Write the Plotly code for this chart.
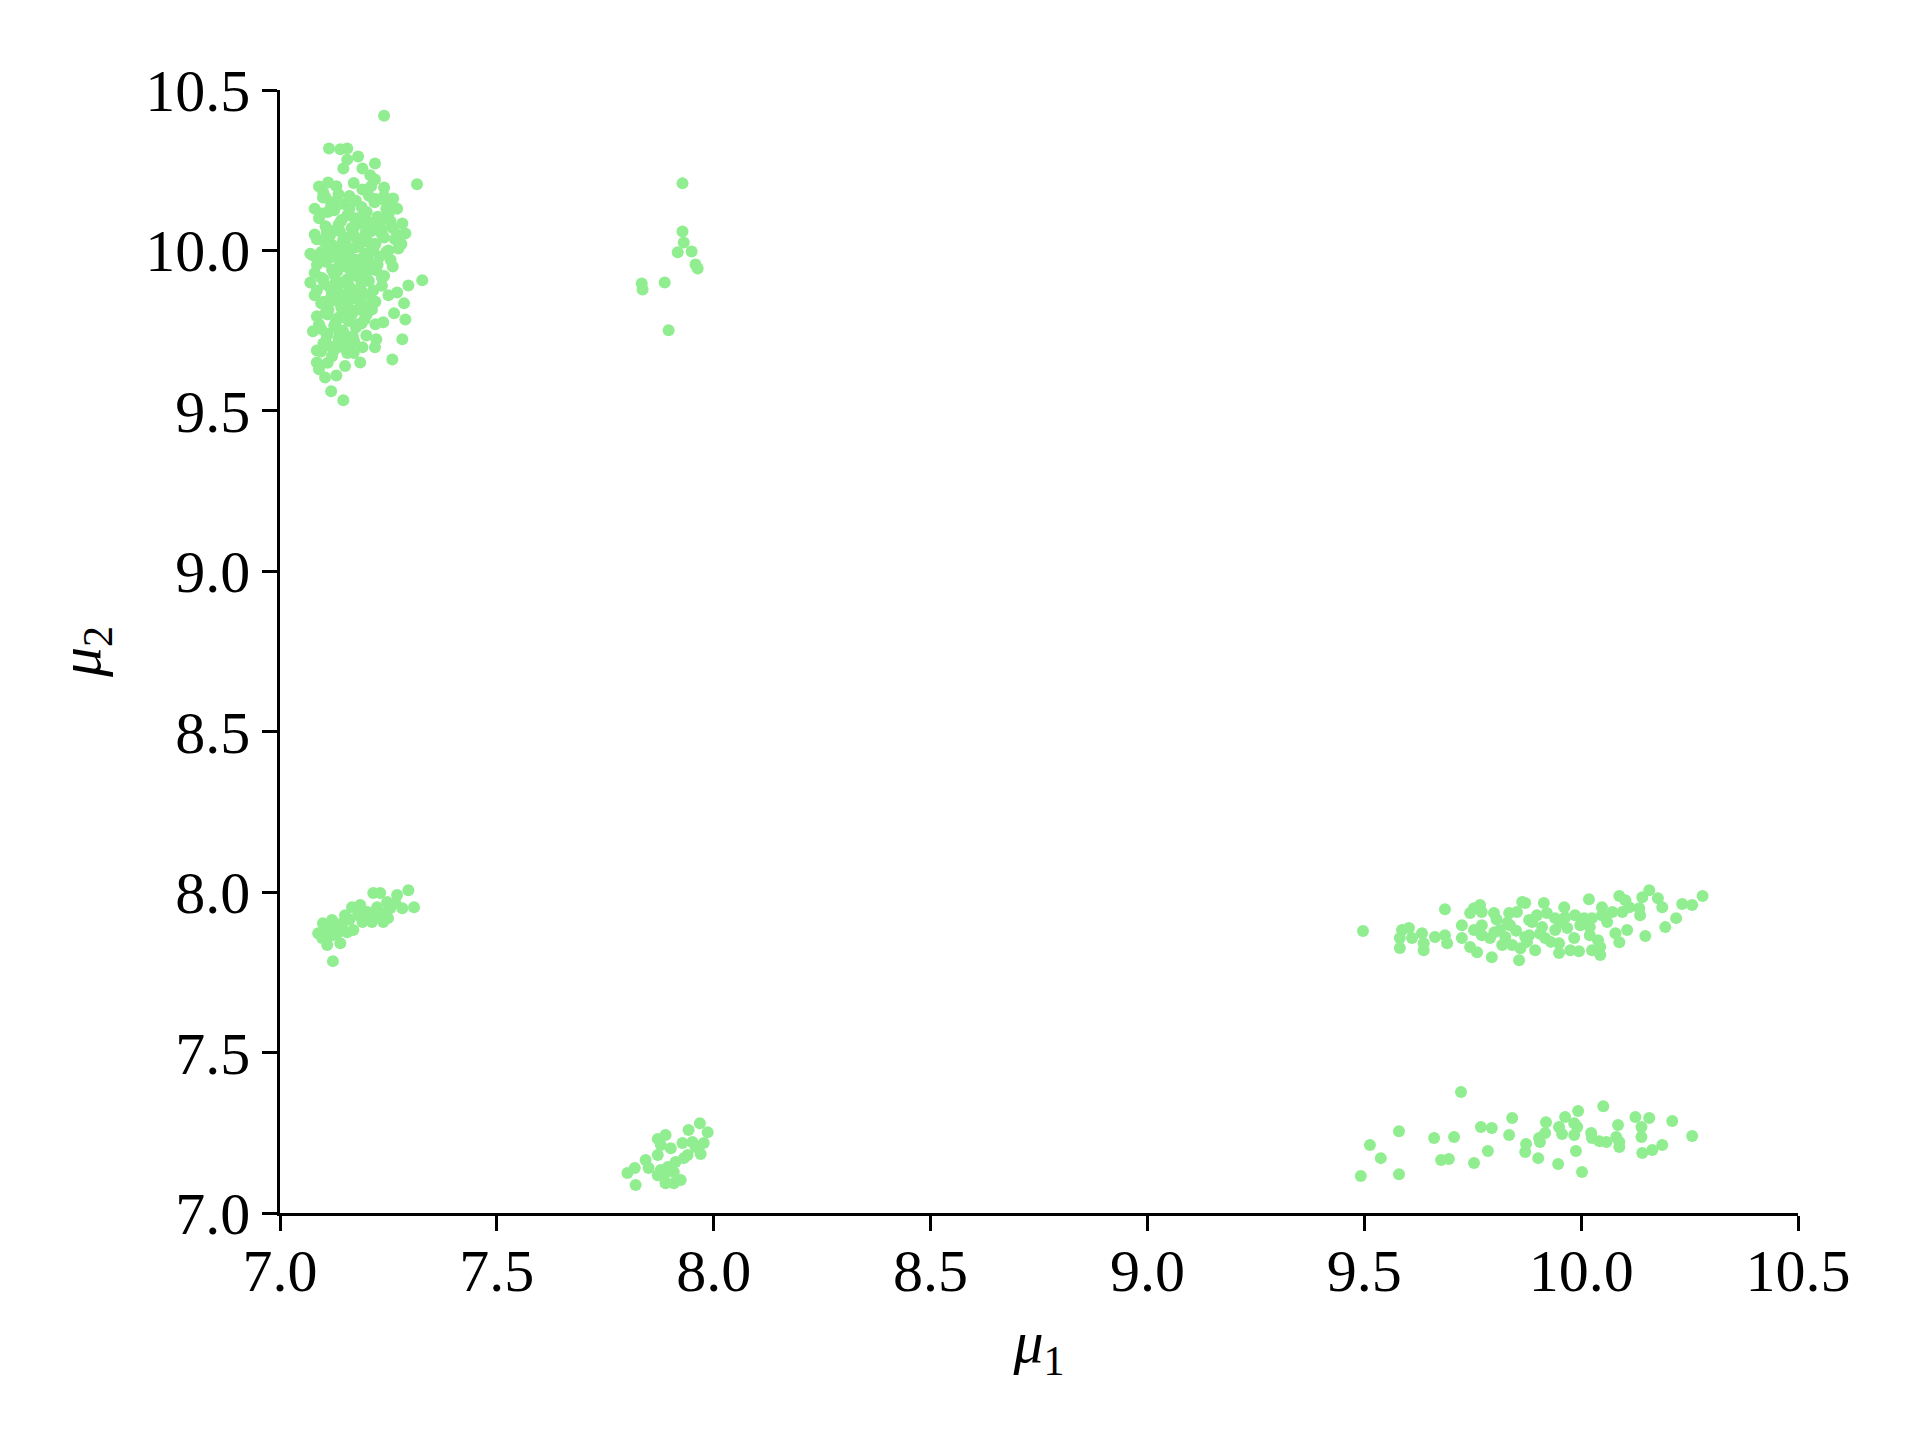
import plotly.graph_objects as go

# Cluster near (7.2, 10.0) - the big one
top_left_mu1 = [
    7.240, 7.113, 7.139, 7.155, 7.155, 7.180, 7.219, 7.146, 7.190, 7.208,
    7.219, 7.316, 7.090, 7.111, 7.240, 7.099, 7.261, 7.249, 7.282, 7.289,
    7.273, 7.076, 7.328, 7.296, 7.286, 7.289, 7.282, 7.259, 7.076, 7.085,
    7.085, 7.104, 7.118, 7.146, 7.190, 7.219, 7.222, 7.171, 7.185, 7.199,
    7.238, 7.263, 7.270, 7.212, 7.190,
    7.10, 7.13, 7.16, 7.19, 7.22, 7.12, 7.17, 7.21,
    7.09, 7.11, 7.14, 7.16, 7.18, 7.20, 7.23, 7.25, 7.13, 7.26,
    7.08, 7.10, 7.12, 7.15, 7.17, 7.19, 7.21, 7.24, 7.14, 7.22, 7.27,
    7.07, 7.09, 7.11, 7.13, 7.16, 7.18, 7.20, 7.23, 7.25, 7.28, 7.15,
    7.08, 7.10, 7.12, 7.14, 7.17, 7.19, 7.21, 7.24, 7.26, 7.16,
    7.08, 7.10, 7.12, 7.14, 7.17, 7.19, 7.22, 7.25, 7.11, 7.15,
    7.09, 7.11, 7.13, 7.16, 7.18, 7.14, 7.10, 7.12, 7.15, 7.13, 7.17,
    7.08, 7.27, 7.24, 7.07, 7.20, 7.22, 7.09, 7.11,
    7.105, 7.135, 7.175, 7.205, 7.235,
    7.095, 7.125, 7.155, 7.195, 7.225, 7.245,
    7.105, 7.135, 7.165, 7.185, 7.215, 7.235, 7.255,
    7.085, 7.115, 7.145, 7.175, 7.205, 7.235, 7.265,
    7.095, 7.125, 7.155, 7.175, 7.195, 7.215, 7.245,
    7.085, 7.105, 7.135, 7.165, 7.185, 7.205, 7.225, 7.255,
    7.095, 7.125, 7.155, 7.175, 7.205, 7.235,
    7.085, 7.115, 7.135, 7.165, 7.185, 7.215, 7.235,
    7.095, 7.125, 7.155, 7.185, 7.205,
    7.085, 7.105, 7.135, 7.165, 7.195,
    7.095, 7.125, 7.145, 7.175,
    7.105, 7.135, 7.165,
    7.095, 7.125, 7.155,
    7.118, 7.148, 7.188, 7.218, 7.142, 7.172, 7.202, 7.232,
    7.108, 7.138, 7.168, 7.198, 7.228, 7.122, 7.152, 7.182, 7.212,
    7.112, 7.142, 7.172, 7.202, 7.132, 7.162, 7.192, 7.222,
    7.102, 7.128, 7.158, 7.188, 7.118, 7.148, 7.178, 7.208,
    7.112, 7.142, 7.172, 7.128, 7.158, 7.188,
    7.108, 7.138, 7.168, 7.118, 7.148,
]
top_left_mu2 = [
    10.420, 10.318, 10.315, 10.318, 10.283, 10.293, 10.271, 10.255, 10.255, 10.234,
    10.221, 10.206, 10.199, 10.212, 10.196, 10.165, 10.162, 10.146, 10.084, 10.053,
    10.006, 9.984, 9.907, 9.891, 9.835, 9.785, 9.723, 9.660, 9.748, 9.688,
    9.651, 9.604, 9.561, 9.533, 9.698, 9.698, 9.723, 9.717, 9.651, 9.735,
    9.776, 9.804, 9.869, 9.816, 9.813,
    10.18, 10.20, 10.17, 10.19, 10.16, 10.15, 10.21, 10.20,
    10.10, 10.12, 10.09, 10.13, 10.10, 10.12, 10.09, 10.11, 10.14, 10.07,
    10.05, 10.03, 10.06, 10.04, 10.07, 10.03, 10.06, 10.04, 10.01, 10.02, 10.05,
    9.99, 9.97, 10.00, 9.98, 10.00, 9.97, 9.99, 9.98, 10.00, 10.02, 9.95,
    9.93, 9.91, 9.94, 9.90, 9.93, 9.91, 9.94, 9.92, 9.95, 9.88,
    9.86, 9.84, 9.87, 9.83, 9.85, 9.87, 9.84, 9.86, 9.80, 9.79,
    9.77, 9.74, 9.76, 9.73, 9.77, 9.70, 9.71, 9.67, 9.64, 9.61, 9.68,
    10.13, 10.13, 10.17, 9.90, 9.80, 9.77, 9.63, 9.65,
    10.165, 10.175, 10.155, 10.170, 10.160,
    10.115, 10.125, 10.110, 10.120, 10.105, 10.130,
    10.075, 10.080, 10.070, 10.085, 10.075, 10.065, 10.090,
    10.035, 10.045, 10.030, 10.040, 10.025, 10.050, 10.035,
    9.995, 10.005, 9.990, 10.010, 9.985, 10.000, 9.995,
    9.955, 9.965, 9.950, 9.960, 9.945, 9.965, 9.955, 9.970,
    9.915, 9.925, 9.910, 9.920, 9.905, 9.915,
    9.875, 9.885, 9.870, 9.880, 9.865, 9.875, 9.890,
    9.835, 9.845, 9.830, 9.840, 9.825,
    9.795, 9.805, 9.790, 9.800, 9.785,
    9.755, 9.765, 9.750, 9.760,
    9.715, 9.725, 9.710,
    9.685, 9.690, 9.680,
    10.140, 10.145, 10.135, 10.150, 10.095, 10.100, 10.090, 10.098,
    10.055, 10.060, 10.050, 10.058, 10.062, 10.015, 10.020, 10.012, 10.018,
    9.975, 9.980, 9.972, 9.978, 9.935, 9.940, 9.932, 9.938,
    9.895, 9.900, 9.892, 9.898, 9.855, 9.860, 9.852, 9.858,
    9.815, 9.820, 9.812, 9.775, 9.780, 9.772,
    9.735, 9.740, 9.732, 9.700, 9.705,
]

# Small cluster near (7.9, 10.0)
top_mid_mu1 = [7.928, 7.928, 7.931, 7.917, 7.949, 7.958, 7.963, 7.887, 7.834, 7.836, 7.896]
top_mid_mu2 = [10.209, 10.059, 10.025, 9.994, 9.997, 9.956, 9.944, 9.900, 9.897, 9.878, 9.751]

# Band near (7.2, 7.9)
mid_left_mu1 = [
    7.122, 7.296, 7.309, 7.270, 7.282, 7.215, 7.231, 7.254, 7.238, 7.212,
    7.185, 7.166, 7.150, 7.139, 7.120, 7.099, 7.088, 7.109, 7.139, 7.169,
    7.190, 7.201, 7.224, 7.247, 7.120, 7.155, 7.132, 7.180, 7.203, 7.231,
    7.249, 7.266, 7.097, 7.105, 7.125, 7.145, 7.160, 7.195, 7.222, 7.243,
]
mid_left_mu2 = [
    7.785, 8.006, 7.953, 7.991, 7.950, 7.997, 7.997, 7.950, 7.907, 7.907,
    7.960, 7.953, 7.928, 7.897, 7.913, 7.903, 7.872, 7.835, 7.841, 7.882,
    7.907, 7.938, 7.953, 7.969, 7.866, 7.875, 7.872, 7.928, 7.919, 7.928,
    7.919, 7.966, 7.857, 7.880, 7.892, 7.905, 7.915, 7.940, 7.940, 7.935,
]

# Cluster near (7.9, 7.2)
bottom_mu1 = [
    7.968, 7.986, 7.942, 7.889, 7.871, 7.977, 7.951, 7.928, 7.901, 7.878,
    7.970, 7.940, 7.871, 7.912, 7.843, 7.850, 7.818, 7.801, 7.878, 7.894,
    7.908, 7.871, 7.889, 7.908, 7.924, 7.820, 7.885, 7.931, 7.958,
]
bottom_mu2 = [
    7.280, 7.252, 7.259, 7.243, 7.231, 7.218, 7.221, 7.218, 7.202, 7.212,
    7.184, 7.181, 7.181, 7.159, 7.165, 7.140, 7.140, 7.125, 7.134, 7.143,
    7.128, 7.118, 7.093, 7.093, 7.103, 7.087, 7.112, 7.171, 7.206,
]

# Band near (9.9, 7.9)
right_mid_mu1 = [
    9.497, 9.686, 9.587, 9.603, 9.582, 9.582, 9.633, 9.610, 9.637, 9.637,
    9.663, 9.686, 9.691, 9.725, 9.725, 9.744, 9.753, 9.767, 9.771, 9.744,
    9.760, 9.771, 9.799, 9.794, 9.790, 9.813, 9.834, 9.852, 9.864, 9.836,
    9.857, 9.841, 9.818, 9.871, 9.771, 9.753, 9.880,
    10.280, 10.256, 10.233, 10.219, 10.194, 10.148, 10.187, 10.177, 10.157, 10.141,
    10.134, 10.136, 10.106, 10.088, 10.079, 10.088, 10.102, 10.095, 10.111, 10.060,
    10.072, 10.048, 10.018, 10.044, 10.044, 10.025, 10.039, 10.020, 10.007, 10.025,
    9.986, 9.995, 9.975, 9.984, 9.961, 9.963, 9.940, 9.940, 9.949, 9.949,
    9.917, 9.914, 9.921, 9.898, 9.894, 9.887, 9.871, 9.880, 10.020, 10.048,
    9.998, 9.968, 9.910,
    9.800, 9.825, 9.850, 9.875, 9.905, 9.930, 9.955, 9.805, 9.830, 9.860,
]
right_mid_mu2 = [
    7.879, 7.947, 7.882, 7.888, 7.826, 7.857, 7.872, 7.857, 7.819, 7.841,
    7.860, 7.866, 7.841, 7.897, 7.857, 7.935, 7.950, 7.960, 7.938, 7.829,
    7.813, 7.897, 7.935, 7.797, 7.857, 7.882, 7.935, 7.938, 7.969, 7.897,
    7.788, 7.835, 7.835, 7.860, 7.866, 7.882, 7.913,
    7.988, 7.960, 7.963, 7.919, 7.891, 7.863, 7.953, 7.981, 8.006, 7.984,
    7.950, 7.928, 7.882, 7.844, 7.872, 7.988, 7.975, 7.938, 7.953, 7.907,
    7.938, 7.953, 7.978, 7.829, 7.804, 7.819, 7.850, 7.866, 7.919, 7.919,
    7.928, 7.816, 7.819, 7.857, 7.953, 7.922, 7.919, 7.882, 7.841, 7.810,
    7.857, 7.966, 7.935, 7.928, 7.819, 7.907, 7.966, 7.866, 7.891, 7.928,
    7.897, 7.888, 7.891,
    7.875, 7.860, 7.880, 7.845, 7.870, 7.845, 7.905, 7.915, 7.905, 7.825,
]

# Sparse cluster near (9.9, 7.2)
right_bottom_mu1 = [
    9.723, 9.580, 9.513, 9.538, 9.492, 9.580, 9.661, 9.707, 9.677, 9.695,
    9.753, 9.769, 9.794, 9.785, 9.841, 9.834, 9.873, 9.871,
    10.051, 9.993, 9.963, 9.919, 9.949, 9.984, 9.991, 9.956, 9.984, 9.917,
    9.903, 9.905, 9.901, 9.947, 9.988, 10.002, 10.023, 10.025, 10.042, 10.058,
    10.085, 10.081, 10.088, 10.088, 10.125, 10.157, 10.139, 10.139, 10.210, 10.256,
    10.187, 10.164, 10.141,
]
right_bottom_mu2 = [
    7.377, 7.255, 7.212, 7.171, 7.115, 7.121, 7.234, 7.237, 7.165, 7.168,
    7.156, 7.268, 7.265, 7.193, 7.296, 7.243, 7.215, 7.190,
    7.333, 7.318, 7.299, 7.283, 7.268, 7.280, 7.268, 7.246, 7.243, 7.249,
    7.234, 7.221, 7.171, 7.153, 7.193, 7.128, 7.249, 7.234, 7.224, 7.221,
    7.274, 7.237, 7.221, 7.206, 7.299, 7.296, 7.268, 7.237, 7.287, 7.240,
    7.212, 7.196, 7.187,
]

tick_vals = [7.0, 7.5, 8.0, 8.5, 9.0, 9.5, 10.0, 10.5]
tick_text = ['7.0', '7.5', '8.0', '8.5', '9.0', '9.5', '10.0', '10.5']

mu1 = (top_left_mu1 + top_mid_mu1 + mid_left_mu1 + bottom_mu1
       + right_mid_mu1 + right_bottom_mu1)
mu2 = (top_left_mu2 + top_mid_mu2 + mid_left_mu2 + bottom_mu2
       + right_mid_mu2 + right_bottom_mu2)

fig = go.Figure(
    go.Scatter(
        x=mu1,
        y=mu2,
        mode='markers',
        marker=dict(size=12, color='#90EE90', line=dict(width=0)),
        cliponaxis=True,
    )
)

serif = 'Liberation Serif, Times New Roman, serif'

axis_style = dict(
    range=[7.0, 10.5],
    tickvals=tick_vals,
    ticktext=tick_text,
    showgrid=False,
    zeroline=False,
    showline=True,
    linecolor='black',
    linewidth=2.5,
    ticks='outside',
    ticklen=15,
    tickwidth=2.5,
    tickcolor='black',
    tickfont=dict(family=serif, size=60, color='black'),
)

fig.update_xaxes(
    **axis_style,
    ticklabelstandoff=-12,
    title=dict(text='<i>μ</i><sub>1</sub>', standoff=18,
               font=dict(family=serif, size=60, color='black')),
)
fig.update_yaxes(
    **axis_style,
    title=dict(text='<i>μ</i><sub>2</sub>', standoff=26,
               font=dict(family=serif, size=60, color='black')),
)

# the page body adds an 8px offset, so shift margins to compensate
fig.update_layout(
    width=1920,
    height=1440,
    margin=dict(l=272, r=130, t=82, b=235),
    plot_bgcolor='white',
    paper_bgcolor='white',
    showlegend=False,
)

fig.write_html('out.html')
